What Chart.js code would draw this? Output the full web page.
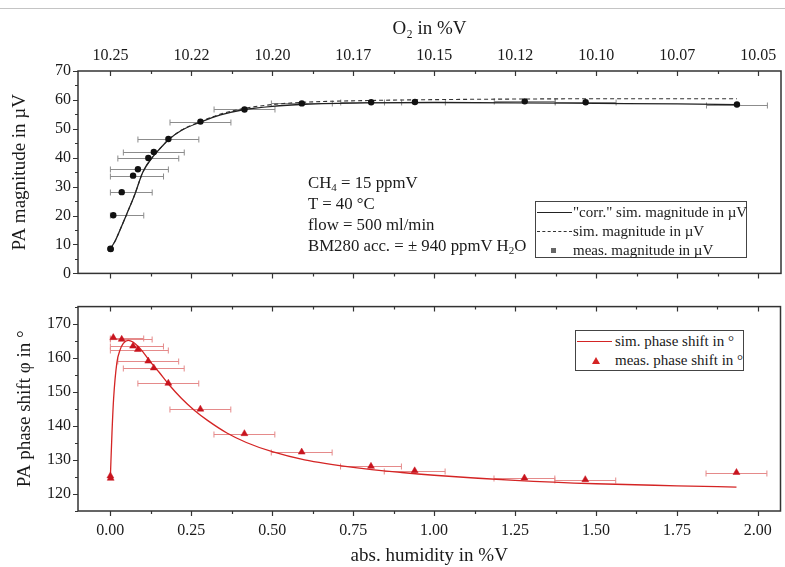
<!DOCTYPE html>
<html>
<head>
<meta charset="utf-8">
<script src="https://cdn.jsdelivr.net/npm/chart.js@4.4.1/dist/chart.umd.min.js"></script>
<style>
  body { margin: 0; background: #fff; }
  #wrap { position: relative; width: 785px; height: 567px; overflow: hidden; background: #fff;
          font-family: "Liberation Serif", "Times New Roman", serif; color: #1a1a1a; }
  #topline { position: absolute; left: 0; top: 8px; width: 785px; border-top: 1px solid #c4c4c4; }
  canvas { position: absolute; left: 0; }
  #magChart { top: 0; }
  #phaseChart { top: 290px; }
  .note { position: absolute; left: 308px; top: 172px; font-size: 16.8px; line-height: 21px; white-space: nowrap; }
  .note sub { font-size: 11px; vertical-align: -3px; line-height: 0; }
  .legend { position: absolute; border: 1px solid #444; background: #fff; font-size: 15px; padding-top: 1px; box-sizing: border-box; }
  .row { position: relative; height: 19px; line-height: 19px; white-space: nowrap; }
  .line { position: absolute; left: 1px; top: 9px; width: 35px; border-top: 1px solid #222; }
  .dash { border-top: 1px dashed #333; }
  .red { border-top-color: #d42424; }
  .sq { position: absolute; left: 15px; top: 7px; width: 5px; height: 5px; background: #666; }
  .tri { position: absolute; left: 16px; top: 6px; width: 0; height: 0;
         border-left: 4px solid transparent; border-right: 4px solid transparent; border-bottom: 7px solid #d42424; }
</style>
</head>
<body>
<div id="wrap">
  <div id="topline"></div>
  <canvas id="magChart" width="785" height="290"></canvas>
  <canvas id="phaseChart" width="785" height="277"></canvas>

  <div class="note">
    CH<sub>4</sub> = 15 ppmV<br>
    T = 40 °C<br>
    flow = 500 ml/min<br>
    BM280 acc. = ± 940 ppmV H<sub>2</sub>O
  </div>

  <div class="legend" style="left:535px; top:201px; width:212px; height:57px;">
    <div class="row" style="padding-left:37px;"><span class="line"></span>"corr." sim. magnitude in µV</div>
    <div class="row" style="padding-left:37px;"><span class="line dash"></span>sim. magnitude in µV</div>
    <div class="row" style="padding-left:37px;"><span class="sq"></span>meas. magnitude in µV</div>
  </div>

  <div class="legend" style="left:575px; top:330px; width:169px; height:41px;">
    <div class="row" style="padding-left:39px;"><span class="line red"></span>sim. phase shift in °</div>
    <div class="row" style="padding-left:39px;"><span class="tri"></span>meas. phase shift in °</div>
  </div>
</div>

<script>
/* DATEN */
const humTicks = [0, 0.25, 0.5, 0.75, 1.0, 1.25, 1.5, 1.75, 2.0];
const o2Labels = ["10.25", "10.22", "10.20", "10.17", "10.15", "10.12", "10.10", "10.07", "10.05"];
const magTicks = [0, 10, 20, 30, 40, 50, 60, 70];
const phaseTicks = [120, 130, 140, 150, 160, 170];

// measured points (abs. humidity in %V) + BM280 error (%V)
const measHum = [0, 0.001, 0.009, 0.035, 0.07, 0.085, 0.117, 0.134, 0.179, 0.278, 0.414, 0.591, 0.805, 0.94, 1.279, 1.467, 1.934];
const measErr = [0, 0, 0.094, 0.094, 0.094, 0.094, 0.094, 0.094, 0.094, 0.094, 0.094, 0.094, 0.094, 0.094, 0.094, 0.094, 0.094];
const measMag = [8.5, 8.4, 20.1, 28.1, 33.8, 36.0, 39.9, 42.0, 46.5, 52.5, 56.7, 58.8, 59.2, 59.3, 59.5, 59.2, 58.4];
const measPhase = [125.3, 124.6, 165.9, 165.4, 163.4, 162.4, 159.0, 157.0, 152.5, 144.9, 137.7, 132.3, 128.1, 126.8, 124.7, 124.2, 126.3];

// simulation magnitude
const simHumMag = [0, 0.015, 0.03, 0.05, 0.075, 0.1, 0.13, 0.16, 0.18, 0.22, 0.28, 0.34, 0.41, 0.5, 0.6, 0.8, 1.0, 1.25, 1.5, 1.75, 1.934];
const corrMag = [8.5, 11.3, 15.1, 20.4, 27.2, 35.0, 40.2, 44.0, 46.3, 49.5, 52.4, 54.8, 56.6, 57.8, 58.5, 59.0, 59.1, 59.0, 58.8, 58.6, 58.4];
const simMag = [8.5, 11.3, 15.1, 20.4, 27.2, 35.0, 40.2, 44.0, 46.3, 49.6, 52.6, 55.1, 57.0, 58.4, 59.2, 59.8, 60.1, 60.3, 60.4, 60.4, 60.4];

// simulation phase
const simHumPhase = [0, 0.005, 0.01, 0.02, 0.03, 0.04, 0.055, 0.07, 0.08, 0.1, 0.12, 0.15, 0.18, 0.22, 0.26, 0.3, 0.36, 0.42, 0.5, 0.6, 0.75, 0.9, 1.0, 1.25, 1.5, 1.75, 1.934];
const simPhase = [125, 138, 148, 158.5, 162.3, 164.2, 165.1, 164.6, 163.8, 161.8, 159.2, 155.8, 152.2, 148.0, 144.5, 141.6, 137.9, 135.1, 132.4, 130.0, 127.8, 126.3, 125.5, 124.0, 123.0, 122.4, 122.0];

const FONT = '"Liberation Serif", "Times New Roman", serif';
const TXT = "#1a1a1a";

const xy = (xs, ys) => xs.map((x, i) => ({ x, y: ys[i] }));
const mids = t => t.slice(1).map((v, i) => (v + t[i]) / 2);

/* RAHMEN + TICKS */
const frameTicks = {
  id: "frameTicks",
  afterDraw(chart, args, opts) {
    const { ctx, chartArea: a } = chart;
    const xs = chart.scales.x, ys = chart.scales.y;
    ctx.save();
    ctx.strokeStyle = "#333";
    ctx.lineWidth = 1.5;
    ctx.strokeRect(a.left, a.top, a.right - a.left, a.bottom - a.top);
    ctx.lineWidth = 1.2;
    ctx.beginPath();
    const xMark = (vals, len) => vals.forEach(v => {
      const p = Math.round(xs.getPixelForValue(v)) + 0.5;
      ctx.moveTo(p, a.top); ctx.lineTo(p, a.top + len);
      ctx.moveTo(p, a.bottom); ctx.lineTo(p, a.bottom + len);
    });
    const yMark = (vals, len) => vals.forEach(v => {
      const p = Math.round(ys.getPixelForValue(v)) + 0.5;
      ctx.moveTo(a.left, p); ctx.lineTo(a.left - len, p);
    });
    xMark(humTicks, 5);
    xMark(mids(humTicks), 3);
    yMark(opts.yTicks, 5);
    yMark(opts.yMinor, 3);
    ctx.stroke();
    ctx.restore();
  }
};

/* FEHLERBALKEN */
const errorBars = {
  id: "errorBars",
  beforeDatasetsDraw(chart, args, opts) {
    const { ctx, chartArea: a } = chart;
    const xs = chart.scales.x, ys = chart.scales.y;
    ctx.save();
    ctx.beginPath();
    ctx.rect(a.left, a.top, a.right - a.left, a.bottom - a.top);
    ctx.clip();
    ctx.strokeStyle = opts.color;
    ctx.lineWidth = 1;
    ctx.beginPath();
    measHum.forEach((x, i) => {
      const e = measErr[i];
      if (!e) return;
      const y = Math.round(ys.getPixelForValue(opts.values[i])) + 0.5;
      const l = xs.getPixelForValue(Math.max(0, x - e));
      const r = xs.getPixelForValue(x + e);
      ctx.moveTo(l, y); ctx.lineTo(r, y);
      ctx.moveTo(l, y - 3); ctx.lineTo(l, y + 3);
      ctx.moveTo(r, y - 3); ctx.lineTo(r, y + 3);
    });
    ctx.stroke();
    ctx.restore();
  }
};

const tickFont = { family: FONT, size: 16 };
const titleFont = { family: FONT, size: 19 };

/* OBEN: MAGNITUDE */
new Chart(document.getElementById("magChart"), {
  type: "line",
  data: {
    datasets: [
      { data: xy(simHumMag, corrMag), borderColor: "#222", borderWidth: 1.3, pointRadius: 0,
        cubicInterpolationMode: "monotone", order: 2 },
      { data: xy(simHumMag, simMag), borderColor: "#333", borderWidth: 1.1, borderDash: [4, 3], pointRadius: 0,
        cubicInterpolationMode: "monotone", order: 3 },
      { data: xy(measHum, measMag), showLine: false, pointStyle: "circle", pointRadius: 3.2,
        pointBackgroundColor: "#111", pointBorderColor: "#111", pointBorderWidth: 0, order: 1 }
    ]
  },
  options: {
    responsive: false,
    animation: false,
    layout: { padding: { left: 0, right: 1, top: 0, bottom: 13 } },
    plugins: {
      legend: { display: false },
      tooltip: { enabled: false },
      frameTicks: { yTicks: magTicks, yMinor: mids(magTicks) },
      errorBars: { values: measMag, color: "#8c8c8c" }
    },
    scales: {
      x: {
        type: "linear", position: "top", min: -0.1, max: 2.07,
        afterFit: s => { s.height = 71; },
        afterBuildTicks: s => { s.ticks = humTicks.map(v => ({ value: v })); },
        ticks: { callback: (v, i) => o2Labels[i], font: tickFont, color: TXT, padding: 6, maxRotation: 0, autoSkip: false },
        grid: { display: false, drawTicks: false },
        border: { display: false },
        title: { display: true, text: "O₂ in %V", font: titleFont, color: TXT, padding: { top: 18, bottom: 0 } }
      },
      y: {
        min: 0, max: 70,
        afterFit: s => { s.width = 78; },
        afterBuildTicks: s => { s.ticks = magTicks.map(v => ({ value: v })); },
        ticks: { font: tickFont, color: TXT, padding: 7 },
        grid: { display: false, drawTicks: false },
        border: { display: false },
        title: { display: true, text: "PA magnitude in µV", font: titleFont, color: TXT, padding: { top: 9, bottom: 0 } }
      }
    }
  },
  plugins: [errorBars, frameTicks]
});

/* UNTEN: PHASE */
new Chart(document.getElementById("phaseChart"), {
  type: "line",
  data: {
    datasets: [
      { data: xy(simHumPhase, simPhase), borderColor: "#d42424", borderWidth: 1.3, pointRadius: 0,
        cubicInterpolationMode: "monotone", order: 2 },
      { data: xy(measHum, measPhase), showLine: false, pointStyle: "triangle", pointRadius: 4,
        pointBackgroundColor: "#c8141e", pointBorderColor: "#c8141e", pointBorderWidth: 0.5, order: 1 }
    ]
  },
  options: {
    responsive: false,
    animation: false,
    layout: { padding: { left: 0, right: 1, top: 15, bottom: 0 } },
    plugins: {
      legend: { display: false },
      tooltip: { enabled: false },
      frameTicks: { yTicks: phaseTicks, yMinor: [115].concat(phaseTicks.map(v => v + 5)) },
      errorBars: { values: measPhase, color: "#e58a8a" }
    },
    scales: {
      x: {
        type: "linear", position: "bottom", min: -0.1, max: 2.07,
        afterFit: s => { s.height = 56; },
        afterBuildTicks: s => { s.ticks = humTicks.map(v => ({ value: v })); },
        ticks: { callback: v => v.toFixed(2), font: tickFont, color: TXT, padding: 10, maxRotation: 0, autoSkip: false },
        grid: { display: false, drawTicks: false },
        border: { display: false },
        title: { display: true, text: "abs. humidity in %V", font: titleFont, color: TXT, padding: { top: 0, bottom: 0 } }
      },
      y: {
        min: 115, max: 175,
        afterFit: s => { s.width = 78; },
        afterBuildTicks: s => { s.ticks = phaseTicks.map(v => ({ value: v })); },
        ticks: { font: tickFont, color: TXT, padding: 7 },
        grid: { display: false, drawTicks: false },
        border: { display: false },
        title: { display: true, text: "PA phase shift φ in °", font: titleFont, color: TXT, padding: { top: 14, bottom: 0 } }
      }
    }
  },
  plugins: [errorBars, frameTicks]
});
</script>
</body>
</html>
